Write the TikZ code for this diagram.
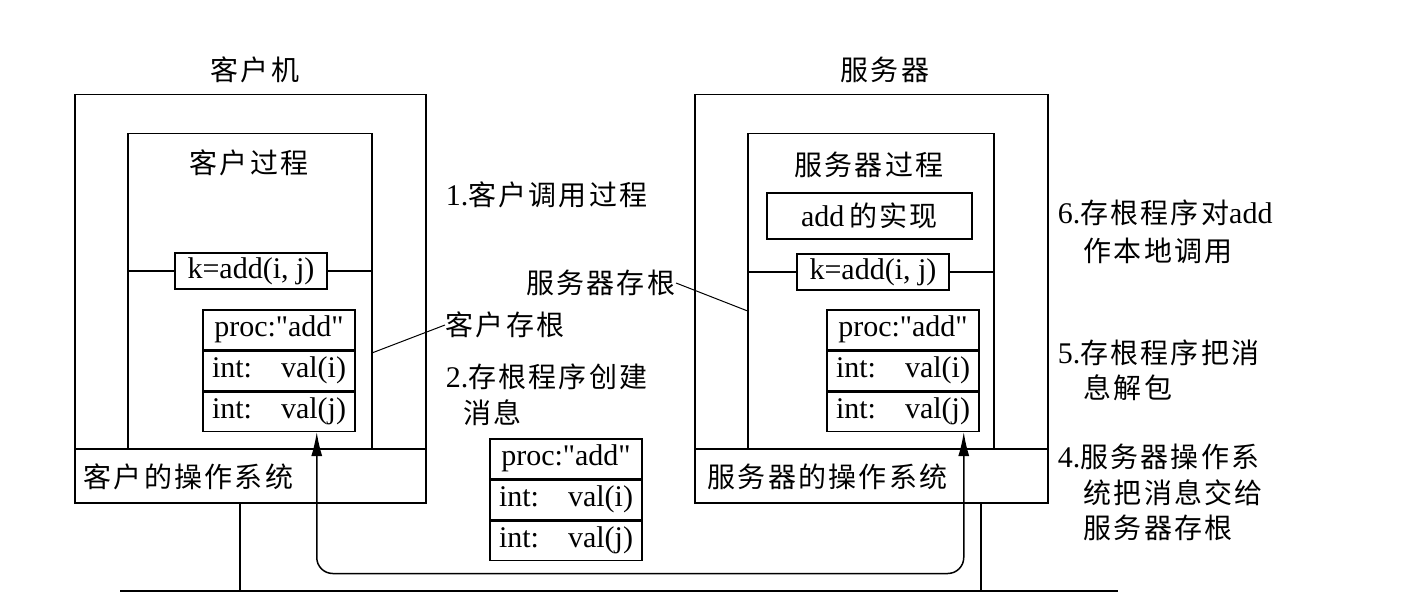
\documentclass[tikz,border=0pt]{standalone}
\usepackage{fontspec}
\setmainfont{Liberation Serif}[Ligatures=TeXOff]
\newfontfamily\cjk[LetterSpace=8]{Noto Sans CJK SC}
\usetikzlibrary{arrows.meta}
\newcommand\zh[1]{{\fontsize{28}{34}\cjk #1}}
\begin{document}
\begin{tikzpicture}[x=1pt,y=-1pt,line width=1.5pt,
  box/.style={draw,inner sep=0pt,anchor=north west},
  lbl/.style={inner sep=0pt,font=\fontsize{30}{36}\selectfont},
  callbox/.style={draw,inner sep=0pt,minimum width=152pt,minimum height=36pt,font=\fontsize{30}{36}\selectfont},
  row/.style={draw,inner sep=0pt,minimum width=152pt,minimum height=39.5pt,font=\fontsize{30}{36}\selectfont,anchor=north}]
\useasboundingbox (0,0) rectangle (1416,604);

% ---------- client machine ----------
\node[lbl] (ctitle) at (255,70) {\zh{客户机}};
\node[box,minimum width=351pt,minimum height=408pt] (cmach) at (74,94) {};
\node[box,minimum width=351pt,minimum height=54pt] (cos) at (74,448) {};
\node[lbl,anchor=west] (costxt) at (83,477) {\zh{客户的操作系统}};
\node[box,minimum width=244pt,minimum height=315pt] (cproc) at (127,133) {};
\node[lbl] (cproctxt) at (249,163) {\zh{客户过程}};
\node[callbox] (ccall) at (251,271) {k=add(i, j)};
\draw (cproc.west |- ccall.west) -- (ccall.west);
\draw (ccall.east) -- (cproc.east |- ccall.east);
\node[row] (cs1) at (279,309) {proc:"add"};
\node[row] (cs2) at (cs1.south) {\makebox[134pt]{int:\hfill val(i)}};
\node[row] (cs3) at (cs2.south) {\makebox[134pt]{int:\hfill val(j)}};

% ---------- server machine ----------
\node[lbl] (stitle) at (885,70) {\zh{服务器}};
\node[box,minimum width=353pt,minimum height=408pt] (smach) at (694,94) {};
\node[box,minimum width=353pt,minimum height=54pt] (sos) at (694,448) {};
\node[lbl,anchor=west] (sostxt) at (707,477) {\zh{服务器的操作系统}};
\node[box,minimum width=246pt,minimum height=315pt] (sproc) at (747,133) {};
\node[lbl] (sproctxt) at (869,165) {\zh{服务器过程}};
\node[draw,inner sep=0pt,minimum width=205pt,minimum height=46pt,font=\fontsize{30}{36}\selectfont] (simpl) at (869.5,216) {add\,\zh{的实现}};
\node[callbox] (scall) at (873,272) {k=add(i, j)};
\draw (sproc.west |- scall.west) -- (scall.west);
\draw (scall.east) -- (sproc.east |- scall.east);
\node[row] (ss1) at (903,309) {proc:"add"};
\node[row] (ss2) at (ss1.south) {\makebox[134pt]{int:\hfill val(i)}};
\node[row] (ss3) at (ss2.south) {\makebox[134pt]{int:\hfill val(j)}};

% ---------- message in transit ----------
\node[row] (ms1) at (566,438) {proc:"add"};
\node[row] (ms2) at (ms1.south) {\makebox[134pt]{int:\hfill val(i)}};
\node[row] (ms3) at (ms2.south) {\makebox[134pt]{int:\hfill val(j)}};

% ---------- network ----------
\coordinate (netL) at (120,591);
\coordinate (netR) at (1118,591);
\draw (netL) -- (netR);
\draw ([xshift=166pt]cos.south west) -- ([xshift=166pt]cos.south west |- netL);
\draw ([xshift=287pt]sos.south west) -- ([xshift=287pt]sos.south west |- netL);

% ---------- message path ----------
\draw[{Latex[length=24pt,width=11pt]}-{Latex[length=24pt,width=11pt]},rounded corners=16pt]
  ([xshift=-39pt]cs3.south east) -- ++(0,141.5) -| ([xshift=-16pt]ss3.south east);

% ---------- middle labels ----------
\node[lbl,anchor=west] (step1) at (445,195) {1.\zh{客户调用过程}};
\node[lbl,anchor=east] (sstub) at (676,283) {\zh{服务器存根}};
\draw[line width=1pt] (sstub.east) -- ([yshift=-19.5pt]sproc.west);
\node[lbl,anchor=west] (cstub) at (445,325) {\zh{客户存根}};
\draw[line width=1pt] (cstub.west) -- ([yshift=-61.5pt]cproc.east);
\node[lbl,anchor=west] (step2a) at (445,377) {2.\zh{存根程序创建}};
\node[lbl,anchor=west] (step2b) at (463,413) {\zh{消息}};

% ---------- right labels ----------
\node[lbl,anchor=west] (step6a) at (1057,213) {6.\zh{存根程序对}add};
\node[lbl,anchor=west] (step6b) at (1083,251) {\zh{作本地调用}};
\node[lbl,anchor=west] (step5a) at (1057,353) {5.\zh{存根程序把消}};
\node[lbl,anchor=west] (step5b) at (1083,388) {\zh{息解包}};
\node[lbl,anchor=west] (step4a) at (1057,457) {4.\zh{服务器操作系}};
\node[lbl,anchor=west] (step4b) at (1083,493) {\zh{统把消息交给}};
\node[lbl,anchor=west] (step4c) at (1083,528) {\zh{服务器存根}};
\end{tikzpicture}
\end{document}
